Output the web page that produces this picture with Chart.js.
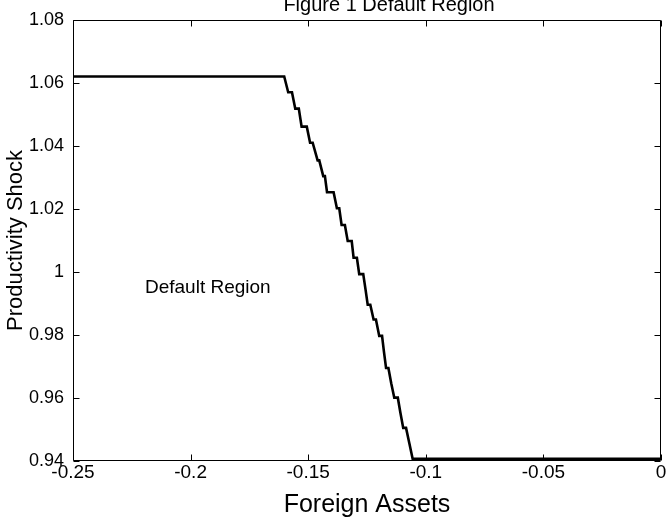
<!DOCTYPE html>
<html>
<head>
<meta charset="utf-8">
<script src="https://cdn.jsdelivr.net/npm/chart.js@4.4.1/dist/chart.umd.min.js"></script>
<style>
  html, body { margin: 0; padding: 0; background: #fff; overflow: hidden; }
  #wrap { width: 670px; height: 527px; }
</style>
</head>
<body>
<div id="wrap"><canvas id="c" width="670" height="527"></canvas></div>
<script>
// Productivity shock grid (top to bottom) and the asset range over which
// each shock level sits on the default boundary.
const shock = [1.0620, 1.0570, 1.0518, 1.0461, 1.0410, 1.0354, 1.0304, 1.0253,
               1.0202, 1.0149, 1.0098, 1.0045, 0.9993, 0.9943, 0.9896, 0.9849,
               0.9797, 0.9747, 0.9695, 0.9647, 0.9601, 0.9553, 0.9505, 0.9456, 0.9407];
const assetEnter = [-0.2500, -0.1585, -0.1555, -0.1528, -0.1492, -0.1460, -0.1436, -0.1420,
                    -0.1378, -0.1358, -0.1332, -0.1307, -0.1283, -0.1256, -0.1247, -0.1222,
                    -0.1198, -0.1178, -0.1169, -0.1147, -0.1134, -0.1108, -0.1096, -0.1070, -0.1056];
const assetLeave = [-0.1602, -0.1569, -0.1540, -0.1506, -0.1481, -0.1453, -0.1429, -0.1392,
                    -0.1368, -0.1344, -0.1315, -0.1293, -0.1266, -0.1256, -0.1236, -0.1212,
                    -0.1186, -0.1178, -0.1159, -0.1147, -0.1119, -0.1108, -0.1084, -0.1070, 0.0000];

const xTickValues = [-0.25, -0.2, -0.15, -0.1, -0.05, 0];
const xTickLabels = ['-0.25', '-0.2', '-0.15', '-0.1', '-0.05', '0'];
const yTickValues = [0.94, 0.96, 0.98, 1.00, 1.02, 1.04, 1.06, 1.08];
const yTickLabels = ['0.94', '0.96', '0.98', '1', '1.02', '1.04', '1.06', '1.08'];

const chartTitle = 'Figure 1 Default Region';
const regionLabel = { text: 'Default Region', x: -0.2194, y: 0.995 };

// Boundary path: each shock level contributes its entry and exit point.
const boundary = [];
shock.forEach((z, i) => {
  boundary.push({ x: assetEnter[i], y: z });
  if (assetLeave[i] !== assetEnter[i]) boundary.push({ x: assetLeave[i], y: z });
});

const FONT = '"Liberation Sans", Arial, Helvetica, sans-serif';

// Axes box with inward ticks on all four sides, plus the title and region text.
const frame = {
  id: 'frame',
  afterDatasetsDraw(chart) {
    const { ctx, chartArea: a, scales } = chart;
    const L = Math.round(a.left) + 0.5, R = Math.round(a.right) - 0.5;
    const T = Math.round(a.top) + 0.5, B = Math.round(a.bottom) - 0.5;
    const tl = 6;
    ctx.save();
    ctx.strokeStyle = '#000';
    ctx.lineWidth = 1;
    ctx.beginPath();
    ctx.rect(L, T, R - L, B - T);
    xTickValues.forEach(v => {
      const px = Math.round(scales.x.getPixelForValue(v)) + 0.5;
      ctx.moveTo(px, B); ctx.lineTo(px, B - tl);
      ctx.moveTo(px, T); ctx.lineTo(px, T + tl);
    });
    yTickValues.forEach(v => {
      const py = Math.round(scales.y.getPixelForValue(v)) + 0.5;
      ctx.moveTo(L, py); ctx.lineTo(L + tl, py);
      ctx.moveTo(R, py); ctx.lineTo(R - tl, py);
    });
    ctx.stroke();

    ctx.fillStyle = '#000';
    ctx.font = '19px ' + FONT;
    ctx.textAlign = 'left';
    ctx.textBaseline = 'middle';
    ctx.fillText(regionLabel.text,
      scales.x.getPixelForValue(regionLabel.x),
      scales.y.getPixelForValue(regionLabel.y));

    ctx.font = '20px ' + FONT;
    ctx.textAlign = 'center';
    ctx.textBaseline = 'alphabetic';
    ctx.fillText(chartTitle, 389, 11);
    ctx.restore();
  }
};

new Chart(document.getElementById('c'), {
  type: 'scatter',
  data: {
    datasets: [{
      data: boundary,
      showLine: true,
      borderColor: '#000',
      borderWidth: 2.6,
      pointRadius: 0,
      tension: 0,
      fill: false
    }]
  },
  options: {
    responsive: false,
    animation: false,
    devicePixelRatio: 1,
    layout: { padding: { top: 17, right: 9, bottom: 0, left: 0 } },
    plugins: { legend: { display: false }, title: { display: false }, tooltip: { enabled: false } },
    scales: {
      x: {
        type: 'linear',
        min: -0.25, max: 0,
        grid: { display: false, drawTicks: false },
        border: { display: false },
        afterFit: s => { s.height = 66; },
        afterBuildTicks: s => { s.ticks = xTickValues.map(v => ({ value: v })); },
        ticks: {
          color: '#000',
          font: { family: FONT, size: 19 },
          padding: 0,
          maxRotation: 0,
          autoSkip: false,
          callback: (v, i) => xTickLabels[i]
        },
        title: {
          display: true,
          text: 'Foreign Assets',
          color: '#000',
          font: { family: FONT, size: 25 },
          padding: { top: 0, bottom: 7 }
        }
      },
      y: {
        type: 'linear',
        min: 0.94, max: 1.08,
        grid: { display: false, drawTicks: false },
        border: { display: false },
        afterFit: s => { s.width = 73; },
        afterBuildTicks: s => { s.ticks = yTickValues.map(v => ({ value: v })); },
        ticks: {
          color: '#000',
          font: { family: FONT, size: 18 },
          padding: 9,
          autoSkip: false,
          callback: (v, i) => yTickLabels[i]
        },
        title: {
          display: true,
          text: 'Productivity Shock',
          color: '#000',
          font: { family: FONT, size: 22 },
          padding: { top: 3, bottom: 0 }
        }
      }
    }
  },
  plugins: [frame]
});
</script>
</body>
</html>
